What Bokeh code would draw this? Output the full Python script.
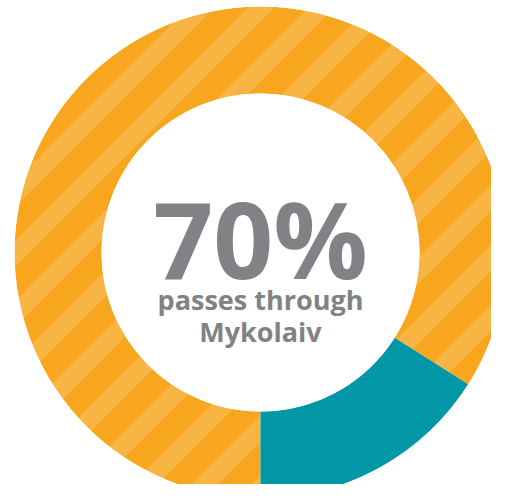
from bokeh.plotting import figure
from bokeh.models import ColumnDataSource
from bokeh.core.properties import value
from bokeh.embed import file_html
from bokeh.resources import INLINE
import math

# ---- data ----
segments = ["Other routes", "Highlighted route"]
shares = [84, 16]          # percent of the ring
colors = ["#F8A61D", "#0197A7"]
headline = ["70%"]
caption = ["passes through", "Mykolaiv"]

W, H = 491, 484
cx, cy = 260, 232
r_out, r_in = 246, 159

# teal segment starts at the bottom and runs counter-clockwise
total = sum(shares)
teal_start = -math.pi / 2
teal_end = teal_start + shares[1] / total * 2 * math.pi
orange_start = teal_end
orange_end = teal_start + 2 * math.pi

p = figure(width=W, height=H, x_range=(0, W), y_range=(0, H),
           output_backend="svg", toolbar_location=None, min_border=0)
p.axis.visible = False
p.grid.visible = False
p.outline_line_color = None
p.background_fill_color = "white"
p.border_fill_color = "white"

# orange segment
p.annular_wedge(x=cx, y=cy, inner_radius=r_in, outer_radius=r_out,
                start_angle=orange_start, end_angle=orange_end,
                fill_color=colors[0], line_color=None)

# diagonal light stripes (decoration of the orange ring)
period, phase = 60, 315
cs = list(range(phase - 12 * period, phase + 12 * period, period))
x0 = [-50] * len(cs)
x1 = [W + 50] * len(cs)
y0 = [(-50) + H - (c + 13) for c in cs]
y1 = [(W + 50) + H - (c + 13) for c in cs]
p.segment(x0=x0, y0=y0, x1=x1, y1=y1, line_color="white",
          line_alpha=0.17, line_width=18.5)

# teal segment on top
p.annular_wedge(x=cx, y=cy, inner_radius=r_in, outer_radius=r_out,
                start_angle=teal_start, end_angle=teal_end,
                fill_color=colors[1], line_color=None)

# white masks outside and inside the ring
p.annular_wedge(x=cx, y=cy, inner_radius=r_out, outer_radius=r_out + 400,
                start_angle=0, end_angle=2 * math.pi,
                fill_color="white", line_color=None)
p.circle(x=cx, y=cy, radius=r_in, fill_color="white", line_color=None)

gray = "#808285"
p.text(x=[cx], y=[246], text=headline, text_font=value("Open Sans"),
       text_font_style="bold", text_font_size="105px", text_color=gray,
       text_align="center", text_baseline="alphabetic")
p.text(x=[cx, cx], y=[185, 153], text=caption, text_font=value("Open Sans"),
       text_font_style="bold", text_font_size="27px", text_color=gray,
       text_align="center", text_baseline="alphabetic")

open("out.html", "w").write(file_html(p, INLINE))
